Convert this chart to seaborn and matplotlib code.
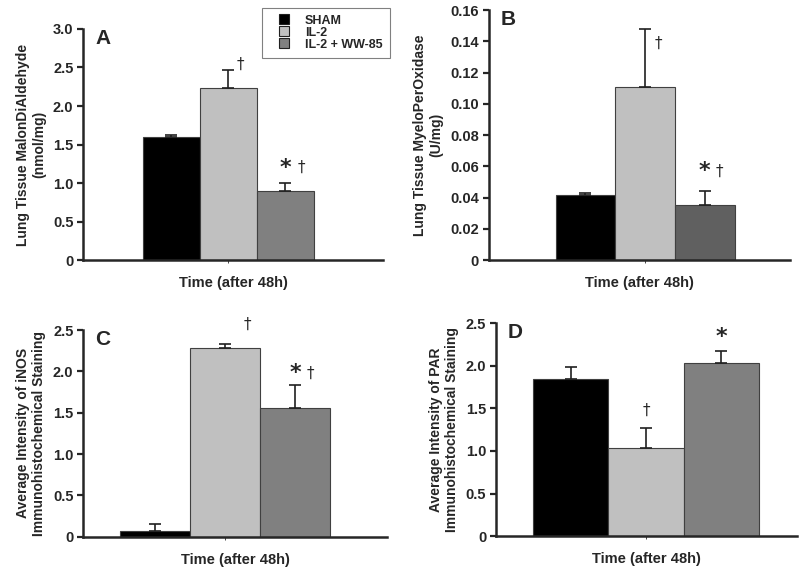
import pandas as pd
import matplotlib.pyplot as plt
import seaborn as sns
from matplotlib.lines import Line2D
from matplotlib.ticker import FuncFormatter

# --- Data ---
GROUPS = ['SHAM', 'IL-2', 'IL-2 + WW-85']
TIME_LABEL = 'Time (after 48h)'

mda_mean = [1.60, 2.24, 0.90]
mda_err = [0.02, 0.23, 0.10]
mda_marks = ['', '†', '* †']

mpo_mean = [0.042, 0.111, 0.035]
mpo_err = [0.001, 0.037, 0.009]
mpo_marks = ['', '†', '* †']

inos_mean = [0.07, 2.28, 1.56]
inos_err = [0.08, 0.05, 0.27]
inos_marks = ['', '†', '* †']

par_mean = [1.85, 1.03, 2.03]
par_err = [0.14, 0.24, 0.14]
par_marks = ['', '†', '*']

# --- Style ---
COLORS = ['#000000', '#c0c0c0', '#808080']
COLORS_B = ['#000000', '#c0c0c0', '#606060']
NARROW = ['Liberation Sans Narrow', 'Liberation Sans', 'DejaVu Sans']
WIDE = ['Liberation Sans', 'DejaVu Sans']
SYMB = ['DejaVu Sans']

sns.set_style('ticks')
plt.rcParams['font.family'] = NARROW
plt.rcParams['font.weight'] = 'bold'
plt.rcParams['axes.labelweight'] = 'bold'


def zero_fmt(fmt):
    return FuncFormatter(lambda v, p: '0' if abs(v) < 1e-12 else fmt.format(v))


def panel(ax, means, errs, marks, letter, ylabel, ylim, ystep, fmt, xlim, colors, offs):
    df = pd.DataFrame({'time': [TIME_LABEL] * 3, 'group': GROUPS, 'value': means})
    sns.barplot(data=df, x='time', y='value', hue='group', hue_order=GROUPS,
                palette=colors, width=0.8, errorbar=None, edgecolor='#404040',
                linewidth=0.8, legend=False, ax=ax)
    # one-sided error bars and significance marks
    for i, (cont, m, e, mk) in enumerate(zip(ax.containers, means, errs, marks)):
        bar = cont.patches[0]
        w = bar.get_width()
        xc = bar.get_x() + w / 2
        ax.errorbar(xc, m, yerr=[[0], [e]], fmt='none', ecolor='#202020',
                    elinewidth=1.2, capsize=4, capthick=1.2, zorder=3)
        if not mk:
            continue
        dx, dy = offs[i]
        top = m + e + dy
        if mk == '†':
            ax.text(xc + dx * w, top, '†', ha='center', va='center',
                    fontsize=11, fontweight='normal', family=SYMB)
        else:
            ax.text(xc, top, '*', ha='center', va='center', fontsize=16,
                    fontweight='bold', family=SYMB)
            if '†' in mk:
                ax.text(xc + dx * w, top, '†', ha='center', va='center',
                        fontsize=11, fontweight='normal', family=SYMB)

    ax.set_ylim(*ylim)
    n = int(round((ylim[1] - ylim[0]) / ystep))
    ax.set_yticks([i * ystep for i in range(n + 1)])
    ax.yaxis.set_major_formatter(zero_fmt(fmt))
    ax.set_xlim(*xlim)
    ax.set_xticks([0])
    ax.set_xticklabels([''])
    ax.tick_params(axis='x', length=2, width=0.6)
    ax.tick_params(axis='y', length=4, width=1.6, pad=3)
    for lbl in ax.get_yticklabels():
        lbl.set_fontweight('bold')
        lbl.set_fontsize(10.5)
        lbl.set_family(WIDE)
    ax.set_xlabel(TIME_LABEL, fontsize=10.5, fontweight='bold', labelpad=6)
    ax.set_ylabel(ylabel, fontsize=10, fontweight='bold', labelpad=5)
    sns.despine(ax=ax)
    ax.spines['left'].set_linewidth(1.8)
    ax.spines['bottom'].set_linewidth(1.8)
    ax.text(0.04, 1.0, letter, transform=ax.transAxes, fontsize=15,
            fontweight='bold', va='top', ha='left', family=WIDE)


def main():
    fig = plt.figure(figsize=(8.0, 5.68), dpi=100)
    ax_a = fig.add_axes([0.104, 0.542, 0.375, 0.407])
    ax_b = fig.add_axes([0.611, 0.542, 0.376, 0.440])
    ax_c = fig.add_axes([0.104, 0.055, 0.380, 0.364])
    ax_d = fig.add_axes([0.620, 0.056, 0.376, 0.375])

    panel(ax_a, mda_mean, mda_err, mda_marks, 'A',
          'Lung Tissue MalonDiAldehyde\n(nmol/mg)', (0, 3.0), 0.5, '{:.1f}',
          (-0.678, 0.726), COLORS, [None, (0.21, 0.07), (0.28, 0.2)])
    panel(ax_b, mpo_mean, mpo_err, mpo_marks, 'B',
          'Lung Tissue MyeloPerOxidase\n(U/mg)', (0, 0.16), 0.02, '{:.2f}',
          (-0.699, 0.646), COLORS_B, [None, (0.22, -0.009), (0.24, 0.013)])
    panel(ax_c, inos_mean, inos_err, inos_marks, 'C',
          'Average Intensity of iNOS\nImmunohistochemical Staining', (0, 2.5), 0.5, '{:.1f}',
          (-0.541, 0.617), COLORS, [None, (0.31, 0.24), (0.21, 0.15)])
    panel(ax_d, par_mean, par_err, par_marks, 'D',
          'Average Intensity of PAR\nImmunohistochemical Staining', (0, 2.5), 0.5, '{:.1f}',
          (-0.531, 0.534), COLORS, [None, (0.0, 0.21), (0.0, 0.17)])

    handles = [Line2D([], [], linestyle='none', marker='s', markersize=7,
                      markerfacecolor=c, markeredgecolor='#202020', markeredgewidth=0.8)
               for c in COLORS]
    leg = fig.legend(handles, GROUPS, loc='upper left', bbox_to_anchor=(0.3275, 0.986),
                     fancybox=False, frameon=True, handlelength=2.4,
                     handletextpad=0.5, borderpad=0.55, labelspacing=0.0,
                     prop={'size': 9, 'weight': 'bold', 'family': NARROW},
                     borderaxespad=0)
    leg.get_frame().set_edgecolor('#606060')
    leg.get_frame().set_linewidth(0.8)

    fig.savefig('out.png', dpi=100)
    plt.close(fig)


if __name__ == '__main__':
    main()
